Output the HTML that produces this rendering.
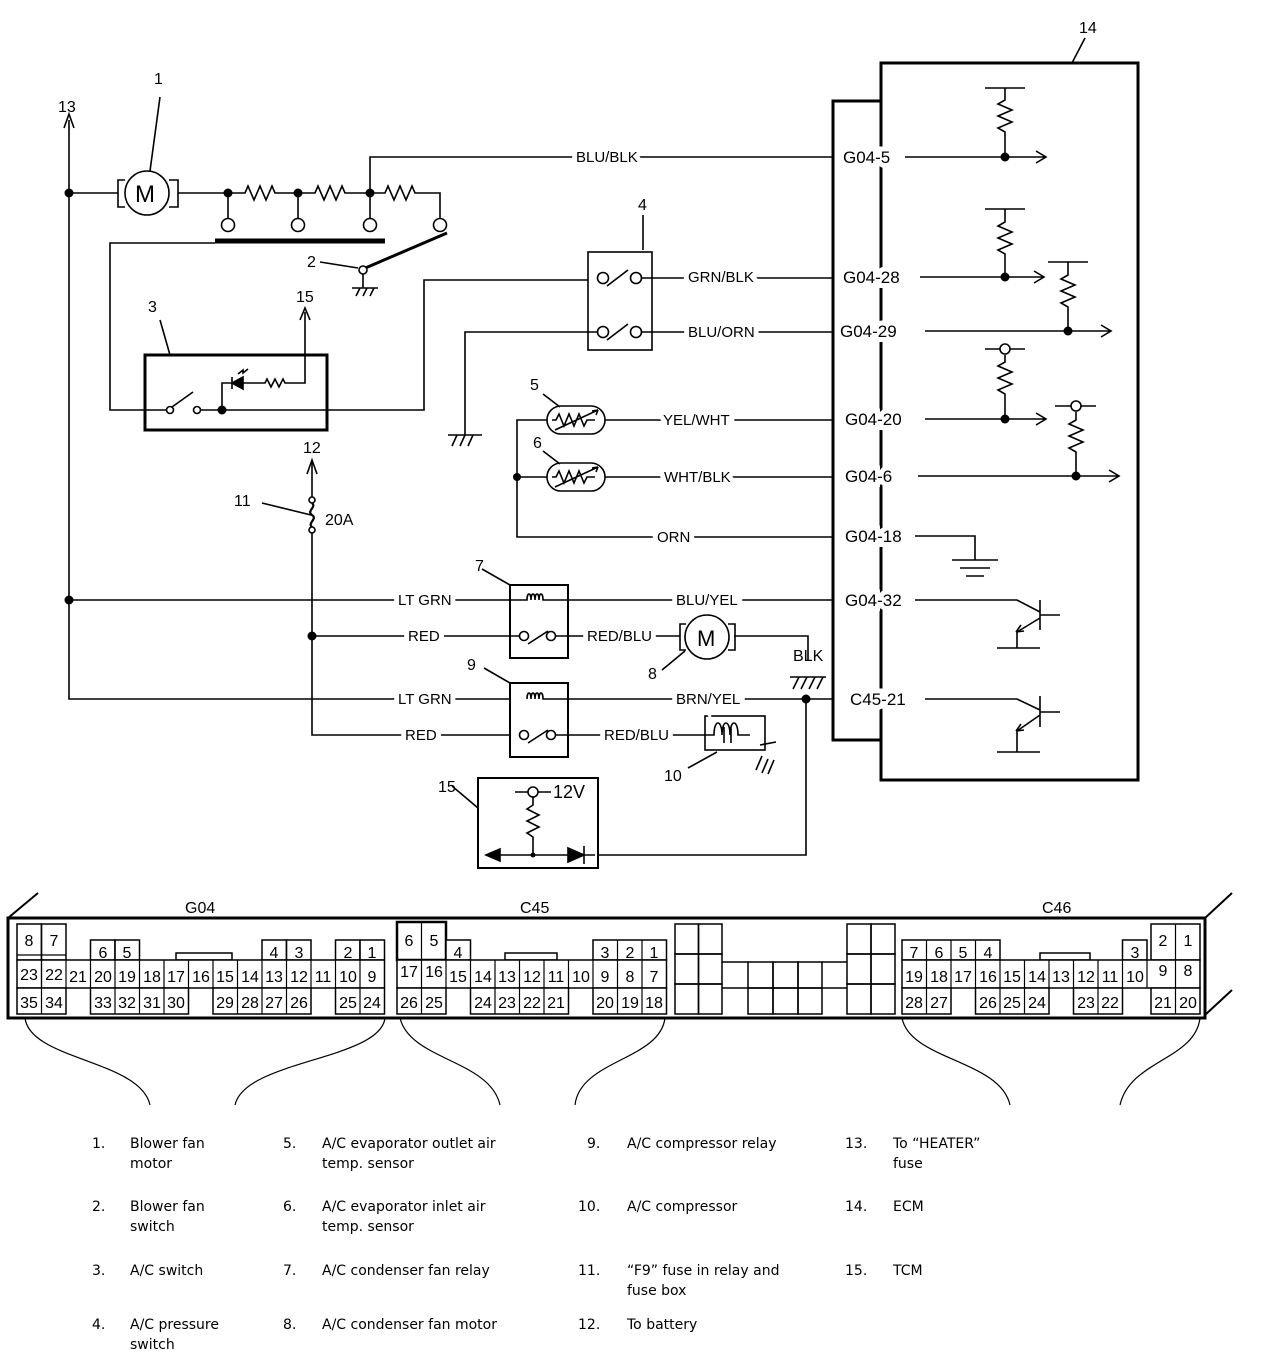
<!DOCTYPE html>
<html><head><meta charset="utf-8"><style>
html,body{margin:0;padding:0;background:#fff}
svg{display:block}
.l{font-family:"Liberation Sans",sans-serif;font-size:16px;fill:#000}
.w{font-family:"Liberation Sans",sans-serif;font-size:15px;fill:#000;stroke:#fff;stroke-width:10px;paint-order:stroke}
.p{font-family:"Liberation Sans",sans-serif;font-size:17px;fill:#000;stroke:#fff;stroke-width:10px;paint-order:stroke}
.c{font-family:"Liberation Sans",sans-serif;font-size:16px;fill:#000;text-anchor:middle}
.g{font-family:"DejaVu Sans",sans-serif;font-size:14px;fill:#000}
</style></head><body>
<svg width="1264" height="1372" viewBox="0 0 1264 1372" xmlns="http://www.w3.org/2000/svg">
<g fill="none" stroke="#000" stroke-width="1.6">
<path d="M69 120 V699 H510"/>
<path d="M64 128 L69 114 L74 128"/>
<path d="M69 193 H118 M178 193 H228"/>
<circle cx="147" cy="193" r="22"/>
<path d="M125 180 H118 V207 H125 M169 180 H178 V207 H169"/>
<path d="M150 171 L160 97"/>
<path d="M228 193 H245 l3,-7 l6,14 l6,-14 l6,14 l6,-14 l3,7 H298 H315 l3,-7 l6,14 l6,-14 l6,14 l6,-14 l3,7 H370 H385 l3,-7 l6,14 l6,-14 l6,14 l6,-14 l3,7 H440 V218"/>
<path d="M228 193 V218 M298 193 V218 M370 193 V218"/>
<circle cx="228" cy="225" r="6.5" fill="#fff"/><circle cx="298" cy="225" r="6.5" fill="#fff"/>
<circle cx="370" cy="225" r="6.5" fill="#fff"/><circle cx="440" cy="225" r="6.5" fill="#fff"/>
<path d="M215 241 H385" stroke-width="5"/>
<path d="M363 269 L447 233" stroke-width="3"/>
<circle cx="363" cy="270" r="4" fill="#fff"/>
<path d="M320 262 L358 268 M363 274 V288 M352 288 H378 M356 296 l4,-8 M363 296 l4,-8 M370 296 l4,-8"/>
<path d="M370 193 V157 H833"/>
<path d="M215 243 H110 V410 H166"/>
<rect x="145" y="355" width="182" height="75" stroke-width="3"/>
<circle cx="170" cy="410" r="3.5" fill="#fff"/>
<path d="M172 407 L193 392"/>
<circle cx="197" cy="410" r="3.5" fill="#fff"/>
<path d="M201 410 H424 V280 H588"/>
<path d="M222 410 V383 H232"/>
<path d="M232 383 L243 377 V389 Z" fill="#000"/>
<path d="M232 377 V389 M238 374 l5,-4 l0,3 l5,-4"/>
<path d="M243 383 H265 l2,-4 l4,8 l4,-8 l4,8 l4,-8 l2,4 H305 V312"/>
<path d="M300 320 L305 308 L310 320"/>
<path d="M160 320 L170 355"/>
<rect x="588" y="252" width="64" height="98"/>
<circle cx="603" cy="278" r="5.5" fill="#fff"/><circle cx="636" cy="278" r="5.5" fill="#fff"/>
<path d="M607 286 L628 270"/>
<circle cx="603" cy="332" r="5.5" fill="#fff"/><circle cx="636" cy="332" r="5.5" fill="#fff"/>
<path d="M607 340 L628 324"/>
<path d="M641 278 H833 M641 332 H833 M598 332 H465 V435"/>
<path d="M448 435 H482 M452 446 l5,-11 M460 446 l5,-11 M468 446 l5,-11"/>
<path d="M643 215 V250"/>
<rect x="547" y="406" width="58" height="28" rx="14"/>
<path d="M552 420 H556 l3,-6 l5,12 l5,-12 l5,12 l5,-12 l5,12 l3,-6 H595 M555 430 L598 410 l-6,1 M598 410 l-2,5"/>
<rect x="547" y="463" width="58" height="28" rx="14"/>
<path d="M552 477 H556 l3,-6 l5,12 l5,-12 l5,12 l5,-12 l5,12 l3,-6 H595 M555 487 L598 467 l-6,1 M598 467 l-2,5"/>
<path d="M605 420 H833 M605 477 H833 M547 420 H517 V537 H833 M517 477 H547"/>
<path d="M543 394 L560 407 M543 451 L560 464"/>
<rect x="881" y="63" width="257" height="717" stroke-width="3"/>
<path d="M881 101 H833 V740 H881" stroke-width="3"/>
<path d="M1072 63 L1085 38"/>
<path d="M905 157 H1045 M1036 151 L1046 157 L1036 163"/>
<path d="M985 88 H1025 M1005 88 V100 l-7,4 l14,6 l-14,6 l14,6 l-14,6 l7,4 V157"/>
<path d="M920 277 H1043 M1034 271 L1044 277 L1034 283"/>
<path d="M985 209 H1025 M1005 209 V222 l-7,4 l14,6 l-14,6 l14,6 l-14,6 l7,4 V277"/>
<path d="M925 331 H1110 M1101 325 L1111 331 L1101 337"/>
<path d="M1048 262 H1088 M1068 262 V275 l-7,4 l14,6 l-14,6 l14,6 l-14,6 l7,4 V331"/>
<path d="M925 419 H1045 M1036 413 L1046 419 L1036 425"/>
<path d="M985 349 H1025 M1005 355 V362 l-7,4 l14,6 l-14,6 l14,6 l-14,6 l7,4 V419"/>
<circle cx="1005" cy="349" r="5" fill="#fff"/>
<path d="M918 476 H1118 M1109 470 L1119 476 L1109 482"/>
<path d="M1055 406 H1096 M1076 412 V420 l-7,4 l14,6 l-14,6 l14,6 l-14,6 l7,4 V476"/>
<circle cx="1076" cy="406" r="5" fill="#fff"/>
<path d="M915 536 H975 V560 M952 560 H998 M960 568 H990 M966 576 H984"/>
<path d="M915 600 H1017 L1040 612 M1040 600 V630 M1040 615 H1060 M1040 618 L1017 632 M1016 632 l5,-7 M1016 632 l8,-1 M997 648 H1040 M1017 632 V648"/>
<path d="M925 699 H1017 L1040 710 M1040 696 V727 M1040 712 H1060 M1040 715 L1017 731 M1016 731 l5,-7 M1016 731 l8,-1 M997 752 H1040 M1017 731 V752"/>
<path d="M312 462 V497"/>
<path d="M307 474 L312 460 L317 474"/>
<circle cx="312" cy="500" r="3" fill="#fff"/>
<path d="M312 503 c5,4 -6,8 0,12 c6,4 -5,8 0,12" stroke-width="2.2"/>
<circle cx="312" cy="530" r="3" fill="#fff"/>
<path d="M312 533 V735 H510 M262 503 L311 515"/>
<rect x="510" y="585" width="58" height="73" stroke-width="2"/>
<path d="M69 600 H527 c0,-8 4,-8 4,0 c0,-8 4,-8 4,0 c0,-8 4,-8 4,0 c0,-8 4,-8 4,0 H833"/>
<path d="M312 636 H520"/>
<circle cx="524" cy="636" r="4.5" fill="#fff"/><circle cx="551" cy="636" r="4.5" fill="#fff"/>
<path d="M528 644 L548 631 M556 636 H680 M734 636 H808 V660"/>
<circle cx="707" cy="637" r="22"/>
<path d="M686 624 H680 V650 H686 M728 624 H735 V650 H728 M685 651 L662 670"/>
<path d="M790 677 H826 M793 689 l6,-12 M801 689 l6,-12 M809 689 l6,-12 M817 689 l6,-12"/>
<path d="M482 569 L510 585"/>
<rect x="510" y="683" width="58" height="74" stroke-width="2"/>
<path d="M527 699 c0,-8 4,-8 4,0 c0,-8 4,-8 4,0 c0,-8 4,-8 4,0 c0,-8 4,-8 4,0 H833"/>
<circle cx="524" cy="735" r="4.5" fill="#fff"/><circle cx="551" cy="735" r="4.5" fill="#fff"/>
<path d="M528 743 L548 730 M556 735 H705"/>
<path d="M484 668 L510 683"/>
<rect x="705" y="716" width="60" height="34"/>
<path d="M705 735 H714 c0,-16 8,-16 8,0 c0,-16 8,-16 8,0 c0,-16 8,-16 8,0 H750 M724 727 v16 M731 727 v16"/>
<path d="M760 745 L776 742 M756 770 l6,-14 M762 773 l6,-14 M768 774 l6,-14"/>
<path d="M688 768 L717 752"/>
<path d="M806 699 V855 H598"/>
<rect x="478" y="778" width="120" height="90" stroke-width="2"/>
<path d="M452 786 L478 808"/>
<path d="M515 792 H551"/>
<circle cx="533" cy="792" r="5" fill="#fff"/>
<path d="M533 797 V805 l-6,4 l12,6 l-12,6 l12,6 l-12,6 l6,4 V855"/>
<path d="M500 855 H595 M584 846 V864"/>
<path d="M486 855 L500 849 V861 Z M584 855 L568 848 V862 Z" fill="#000"/>
</g>
<g fill="#000">
<circle cx="69" cy="193" r="4.5"/><circle cx="228" cy="193" r="4.5"/><circle cx="298" cy="193" r="4.5"/><circle cx="370" cy="193" r="4.5"/>
<circle cx="222" cy="410" r="4.5"/><circle cx="1005" cy="157" r="4.5"/><circle cx="1005" cy="277" r="4.5"/><circle cx="1068" cy="331" r="4.5"/>
<circle cx="1005" cy="419" r="4.5"/><circle cx="1076" cy="476" r="4.5"/><circle cx="517" cy="477" r="4"/>
<circle cx="69" cy="600" r="4.5"/><circle cx="312" cy="636" r="4.5"/><circle cx="806" cy="699" r="4.5"/><circle cx="533" cy="855" r="2.5"/>
</g>
<text class="l" x="154" y="84">1</text>
<text class="l" x="58" y="112">13</text>
<text x="135" y="202" style="font:24px 'Liberation Sans',sans-serif">M</text>
<text x="697" y="646" style="font:22px 'Liberation Sans',sans-serif">M</text>
<text class="l" x="307" y="267">2</text>
<text class="l" x="296" y="302">15</text>
<text class="l" x="148" y="312">3</text>
<text class="l" x="638" y="210">4</text>
<text class="l" x="1079" y="33">14</text>
<text class="l" x="530" y="390">5</text>
<text class="l" x="533" y="448">6</text>
<text class="l" x="303" y="453">12</text>
<text class="l" x="234" y="506">11</text>
<text class="l" x="325" y="525">20A</text>
<text class="l" x="475" y="571">7</text>
<text class="l" x="467" y="670">9</text>
<text class="l" x="648" y="679">8</text>
<text class="l" x="664" y="781">10</text>
<text class="l" x="438" y="792">15</text>
<text class="l" x="553" y="798" style="font-size:18px">12V</text>
<text class="l" x="793" y="661">BLK</text>
<text class="w" x="576" y="162">BLU/BLK</text>
<text class="w" x="688" y="282">GRN/BLK</text>
<text class="w" x="688" y="337">BLU/ORN</text>
<text class="w" x="663" y="425">YEL/WHT</text>
<text class="w" x="664" y="482">WHT/BLK</text>
<text class="w" x="657" y="542">ORN</text>
<text class="w" x="398" y="605">LT GRN</text>
<text class="w" x="408" y="641">RED</text>
<text class="w" x="676" y="605">BLU/YEL</text>
<text class="w" x="587" y="641">RED/BLU</text>
<text class="w" x="398" y="704">LT GRN</text>
<text class="w" x="405" y="740">RED</text>
<text class="w" x="676" y="704">BRN/YEL</text>
<text class="w" x="604" y="740">RED/BLU</text>
<text class="p" x="843" y="163">G04-5</text>
<text class="p" x="843" y="283">G04-28</text>
<text class="p" x="840" y="337">G04-29</text>
<text class="p" x="845" y="425">G04-20</text>
<text class="p" x="845" y="482">G04-6</text>
<text class="p" x="845" y="542">G04-18</text>
<text class="p" x="845" y="606">G04-32</text>
<text class="p" x="850" y="705">C45-21</text>

<g fill="none" stroke="#000">
<path d="M8 918 H1205 V1018 H8 Z" stroke-width="3"/>
<path d="M8 918 L38 893 M1205 918 L1232 893 M1205 1015 L1232 990" stroke-width="2"/>
<path d="M25 1018 C30 1060 140 1060 150 1105 M385 1018 C380 1060 245 1060 235 1105 M400 1018 C410 1060 490 1060 500 1105 M665 1018 C660 1060 580 1060 575 1105 M902 1018 C910 1060 1000 1060 1010 1105 M1200 1018 C1195 1060 1130 1060 1120 1105" stroke-width="1.2"/>
<g stroke-width="1.5">
<rect x="176" y="953" width="56" height="7"/><rect x="505" y="953" width="52" height="7"/><rect x="1040" y="953" width="50" height="7"/>
<rect x="675" y="924" width="23.5" height="30"/><rect x="698.5" y="924" width="23.5" height="30"/>
<rect x="675" y="954" width="23.5" height="30"/><rect x="698.5" y="954" width="23.5" height="30"/>
<rect x="675" y="984" width="23.5" height="30"/><rect x="698.5" y="984" width="23.5" height="30"/>
<rect x="847" y="924" width="24" height="30"/><rect x="871" y="924" width="24" height="30"/>
<rect x="847" y="954" width="24" height="30"/><rect x="871" y="954" width="24" height="30"/>
<rect x="847" y="984" width="24" height="30"/><rect x="871" y="984" width="24" height="30"/>
<rect x="748" y="962" width="25" height="26"/><rect x="773" y="962" width="25" height="26"/><rect x="798" y="962" width="24" height="26"/>
<rect x="748" y="988" width="25" height="26"/><rect x="773" y="988" width="25" height="26"/><rect x="798" y="988" width="24" height="26"/>
<path d="M722 962 H748 M722 988 H748 M822 962 H847 M822 988 H847"/>
</g>
</g>
<g fill="#fff" stroke="#000" stroke-width="1.5">
<rect x="17" y="924" width="24.5" height="36"/><rect x="41.5" y="924" width="24.5" height="36"/>
<rect x="90.5" y="940" width="24.5" height="20"/><rect x="115" y="940" width="24.5" height="20"/>
<rect x="262" y="940" width="24.5" height="20"/><rect x="286.5" y="940" width="24.5" height="20"/>
<rect x="335.5" y="940" width="24.5" height="20"/><rect x="360" y="940" width="24.5" height="20"/>
<rect x="17" y="960" width="367.5" height="28"/>
<rect x="17" y="988" width="49" height="26"/><rect x="90.5" y="988" width="98" height="26"/><rect x="213" y="988" width="98" height="26"/><rect x="335.5" y="988" width="49" height="26"/>
<rect x="397" y="922" width="49" height="38" stroke-width="2.5"/><rect x="446" y="940" width="24.5" height="20"/>
<rect x="593" y="940" width="73.5" height="20"/>
<rect x="397" y="960" width="269.5" height="28"/>
<rect x="397" y="988" width="49" height="26"/><rect x="470.5" y="988" width="98" height="26"/><rect x="593" y="988" width="73.5" height="26"/>
<rect x="902" y="940" width="98" height="20"/><rect x="1122.5" y="940" width="24.5" height="20"/>
<rect x="1151" y="924" width="49" height="36"/>
<rect x="902" y="960" width="298" height="28"/>
<rect x="902" y="988" width="49" height="26"/><rect x="975.5" y="988" width="73.5" height="26"/><rect x="1073.5" y="988" width="49" height="26"/><rect x="1151" y="988" width="49" height="26"/>
</g>
<g stroke="#000" stroke-width="1.2" fill="none">
<path d="M41.5 924 V1014 M115 940 V960 M286.5 940 V960 M360 940 V960 M17 955 H66"/>
<path d="M41.5 960 V988 M66 960 V988 M90.5 960 V988 M115 960 V1014 M139.5 960 V1014 M164 960 V1014 M188.5 960 V988 M213 960 V988 M237.5 960 V1014 M262 960 V1014 M286.5 960 V1014 M311 960 V988 M335.5 960 V988 M360 960 V1014"/>
<path d="M421.5 922 V1014 M470.5 960 V988 M495 960 V1014 M519.5 960 V1014 M544 960 V1014 M568.5 960 V988 M593 960 V988 M617.5 940 V1014 M642 940 V1014 M446 960 V988"/>
<path d="M926.5 940 V1014 M951 940 V988 M975.5 940 V988 M1000 960 V1014 M1024.5 960 V1014 M1049 960 V988 M1073.5 960 V988 M1098 960 V1014 M1122.5 960 V988 M1147 960 V988 M1175.5 924 V1014"/>
</g>
<g class="c">
<text x="29" y="946">8</text><text x="54" y="946">7</text><text x="103" y="958">6</text><text x="127" y="958">5</text>
<text x="274" y="958">4</text><text x="299" y="958">3</text><text x="348" y="958">2</text><text x="372" y="958">1</text>
<text x="29" y="980">23</text><text x="54" y="980">22</text><text x="78" y="982">21</text><text x="103" y="982">20</text><text x="127" y="982">19</text><text x="152" y="982">18</text><text x="176" y="982">17</text><text x="201" y="982">16</text><text x="225" y="982">15</text><text x="250" y="982">14</text><text x="274" y="982">13</text><text x="299" y="982">12</text><text x="323" y="982">11</text><text x="348" y="982">10</text><text x="372" y="982">9</text>
<text x="29" y="1008">35</text><text x="54" y="1008">34</text><text x="103" y="1008">33</text><text x="127" y="1008">32</text><text x="152" y="1008">31</text><text x="176" y="1008">30</text><text x="225" y="1008">29</text><text x="250" y="1008">28</text><text x="274" y="1008">27</text><text x="299" y="1008">26</text><text x="348" y="1008">25</text><text x="372" y="1008">24</text>
<text x="409" y="946">6</text><text x="434" y="946">5</text><text x="458" y="958">4</text><text x="605" y="958">3</text><text x="630" y="958">2</text><text x="654" y="958">1</text>
<text x="409" y="977">17</text><text x="434" y="977">16</text><text x="458" y="982">15</text><text x="483" y="982">14</text><text x="507" y="982">13</text><text x="532" y="982">12</text><text x="556" y="982">11</text><text x="581" y="982">10</text><text x="605" y="982">9</text><text x="630" y="982">8</text><text x="654" y="982">7</text>
<text x="409" y="1008">26</text><text x="434" y="1008">25</text><text x="483" y="1008">24</text><text x="507" y="1008">23</text><text x="532" y="1008">22</text><text x="556" y="1008">21</text><text x="605" y="1008">20</text><text x="630" y="1008">19</text><text x="654" y="1008">18</text>
<text x="914" y="958">7</text><text x="939" y="958">6</text><text x="963" y="958">5</text><text x="988" y="958">4</text><text x="1135" y="958">3</text><text x="1163" y="946">2</text><text x="1188" y="946">1</text>
<text x="914" y="982">19</text><text x="939" y="982">18</text><text x="963" y="982">17</text><text x="988" y="982">16</text><text x="1012" y="982">15</text><text x="1037" y="982">14</text><text x="1061" y="982">13</text><text x="1086" y="982">12</text><text x="1110" y="982">11</text><text x="1135" y="982">10</text><text x="1163" y="976">9</text><text x="1188" y="976">8</text>
<text x="914" y="1008">28</text><text x="939" y="1008">27</text><text x="988" y="1008">26</text><text x="1012" y="1008">25</text><text x="1037" y="1008">24</text><text x="1086" y="1008">23</text><text x="1110" y="1008">22</text><text x="1163" y="1008">21</text><text x="1188" y="1008">20</text>
</g>
<text class="l" x="185" y="913">G04</text>
<text class="l" x="520" y="913">C45</text>
<text class="l" x="1042" y="913">C46</text>
<g class="g">
<text x="92" y="1148">1.</text><text x="130" y="1148">Blower fan</text><text x="130" y="1168">motor</text>
<text x="92" y="1211">2.</text><text x="130" y="1211">Blower fan</text><text x="130" y="1231">switch</text>
<text x="92" y="1275">3.</text><text x="130" y="1275">A/C switch</text>
<text x="92" y="1329">4.</text><text x="130" y="1329">A/C pressure</text><text x="130" y="1349">switch</text>
<text x="283" y="1148">5.</text><text x="322" y="1148">A/C evaporator outlet air</text><text x="322" y="1168">temp. sensor</text>
<text x="283" y="1211">6.</text><text x="322" y="1211">A/C evaporator inlet air</text><text x="322" y="1231">temp. sensor</text>
<text x="283" y="1275">7.</text><text x="322" y="1275">A/C condenser fan relay</text>
<text x="283" y="1329">8.</text><text x="322" y="1329">A/C condenser fan motor</text>
<text x="587" y="1148">9.</text><text x="627" y="1148">A/C compressor relay</text>
<text x="578" y="1211">10.</text><text x="627" y="1211">A/C compressor</text>
<text x="578" y="1275">11.</text><text x="627" y="1275">“F9” fuse in relay and</text><text x="627" y="1295">fuse box</text>
<text x="578" y="1329">12.</text><text x="627" y="1329">To battery</text>
<text x="845" y="1148">13.</text><text x="893" y="1148">To “HEATER”</text><text x="893" y="1168">fuse</text>
<text x="845" y="1211">14.</text><text x="893" y="1211">ECM</text>
<text x="845" y="1275">15.</text><text x="893" y="1275">TCM</text>
</g>
</svg>
</body></html>
